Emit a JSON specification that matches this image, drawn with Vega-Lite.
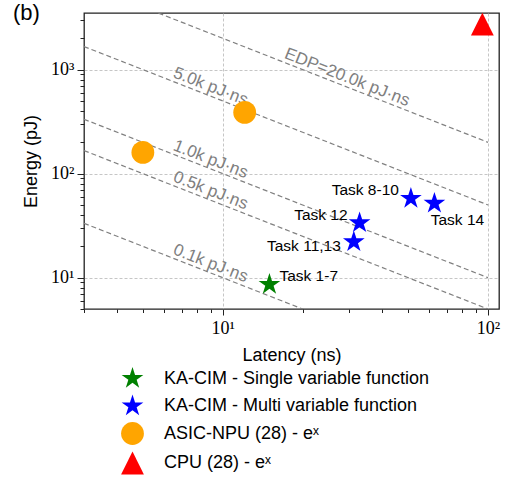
{
  "$schema": "https://vega.github.io/schema/vega-lite/v6.json",
  "width": 415,
  "height": 296,
  "autosize": "none",
  "padding": {"left": 84, "top": 13, "right": 7, "bottom": 168},
  "background": "white",
  "config": {
    "font": "Liberation Sans",
    "view": {"stroke": "#222222", "strokeWidth": 1.3},
    "axis": {
      "tickColor": "#222222",
      "tickWidth": 1,
      "gridColor": "#b8b8b8",
      "gridDash": [3, 2],
      "gridWidth": 0.8,
      "titleFontSize": 18,
      "titleFontWeight": "normal",
      "titleColor": "black",
      "labelColor": "black",
      "titleFont": "Liberation Sans"
    }
  },
  "title": {
    "text": "(b)",
    "anchor": "start",
    "frame": "group",
    "orient": "top",
    "offset": 0,
    "dx": -71,
    "dy": 31,
    "baseline": "alphabetic",
    "fontSize": 22,
    "fontWeight": "normal",
    "font": "Liberation Sans",
    "color": "black"
  },
  "datasets": {
    "points": [
      {"series": "KA-CIM - Single variable function", "latency": 15.0, "energy": 8.6, "task": "Task 1-7"},
      {"series": "KA-CIM - Multi variable function", "latency": 31.2, "energy": 22.1, "task": "Task 11,13"},
      {"series": "KA-CIM - Multi variable function", "latency": 32.8, "energy": 33.7, "task": "Task 12"},
      {"series": "KA-CIM - Multi variable function", "latency": 51.2, "energy": 57.8, "task": "Task 8-10"},
      {"series": "KA-CIM - Multi variable function", "latency": 62.8, "energy": 51.8, "task": "Task 14"},
      {"series": "ASIC-NPU (28) - eˣ", "latency": 5.0, "energy": 160, "task": ""},
      {"series": "ASIC-NPU (28) - eˣ", "latency": 12.1, "energy": 388, "task": ""},
      {"series": "CPU (28) - eˣ", "latency": 95.2, "energy": 2740, "task": ""}
    ],
    "edp_lines": [
      {"edp": "0.1k", "latency": 3, "energy": 33.333},
      {"edp": "0.1k", "latency": 100, "energy": 1},
      {"edp": "0.5k", "latency": 3, "energy": 166.667},
      {"edp": "0.5k", "latency": 100, "energy": 5},
      {"edp": "1.0k", "latency": 3, "energy": 333.333},
      {"edp": "1.0k", "latency": 100, "energy": 10},
      {"edp": "5.0k", "latency": 3, "energy": 1666.667},
      {"edp": "5.0k", "latency": 100, "energy": 50},
      {"edp": "20.0k", "latency": 3, "energy": 6666.667},
      {"edp": "20.0k", "latency": 100, "energy": 200}
    ],
    "edp_labels": [
      {"label": "EDP=20.0k pJ·ns", "latency": 28.6, "energy": 699},
      {"label": "5.0k pJ·ns", "latency": 8.75, "energy": 571},
      {"label": "1.0k pJ·ns", "latency": 8.75, "energy": 114},
      {"label": "0.5k pJ·ns", "latency": 8.75, "energy": 57.1},
      {"label": "0.1k pJ·ns", "latency": 8.75, "energy": 11.4}
    ]
  },
  "layer": [
    {
      "data": {"name": "edp_lines"},
      "mark": {"type": "line", "clip": true, "color": "#808080", "strokeWidth": 1.2, "strokeDash": [5, 3]},
      "encoding": {
        "x": {
          "field": "latency",
          "type": "quantitative",
          "scale": {"type": "log", "domain": [3, 110], "nice": false},
          "axis": {
            "title": "Latency (ns)",
            "values": [3, 4, 5, 6, 7, 8, 9, 10, 20, 30, 40, 50, 60, 70, 80, 90, 100],
            "labelExpr": "datum.value === 10 ? '10¹' : datum.value === 100 ? '10²' : ''",
            "tickSize": {"condition": {"test": "datum.value === 10 || datum.value === 100", "value": 6}, "value": 3.5},
            "gridOpacity": {"condition": {"test": "datum.value === 10 || datum.value === 100", "value": 1}, "value": 0},
            "grid": true,
            "domain": false,
            "labelFont": "Liberation Serif",
            "labelFontSize": 18,
            "labelPadding": 4,
            "labelFlush": false,
            "labelOverlap": false,
            "titlePadding": 9
          }
        },
        "y": {
          "field": "energy",
          "type": "quantitative",
          "scale": {"type": "log", "domain": [5, 3500], "nice": false},
          "axis": {
            "title": "Energy (pJ)",
            "values": [5, 6, 7, 8, 9, 10, 20, 30, 40, 50, 60, 70, 80, 90, 100, 200, 300, 400, 500, 600, 700, 800, 900, 1000, 2000, 3000],
            "labelExpr": "datum.value === 10 ? '10¹' : datum.value === 100 ? '10²' : datum.value === 1000 ? '10³' : ''",
            "tickSize": {"condition": {"test": "datum.value === 10 || datum.value === 100 || datum.value === 1000", "value": 7}, "value": 4},
            "gridOpacity": {"condition": {"test": "datum.value === 10 || datum.value === 100 || datum.value === 1000", "value": 1}, "value": 0},
            "grid": true,
            "domain": false,
            "labelFont": "Liberation Serif",
            "labelFontSize": 18,
            "labelPadding": 3,
            "labelFlush": false,
            "labelOverlap": false,
            "titlePadding": 10
          }
        },
        "detail": {"field": "edp", "type": "nominal"}
      }
    },
    {
      "data": {"name": "edp_labels"},
      "mark": {"type": "text", "angle": 21.4, "align": "center", "baseline": "middle", "dy": -9, "color": "#808080", "fontSize": 17},
      "encoding": {
        "x": {"field": "latency", "type": "quantitative"},
        "y": {"field": "energy", "type": "quantitative"},
        "text": {"field": "label"}
      }
    },
    {
      "data": {"name": "points"},
      "mark": {"type": "point", "filled": true, "opacity": 1, "strokeWidth": 0},
      "encoding": {
        "x": {"field": "latency", "type": "quantitative"},
        "y": {"field": "energy", "type": "quantitative"},
        "color": {
          "field": "series",
          "type": "nominal",
          "scale": {
            "domain": ["KA-CIM - Single variable function", "KA-CIM - Multi variable function", "ASIC-NPU (28) - eˣ", "CPU (28) - eˣ"],
            "range": ["#008000", "#0000ff", "#ffa500", "#ff0000"]
          },
          "legend": {
            "orient": "none",
            "legendX": 37,
            "legendY": 354,
            "title": null,
            "labelFontSize": 18,
            "labelFont": "Liberation Sans",
            "labelColor": "black",
            "symbolSize": 324,
            "labelOffset": 20,
            "rowPadding": 6.5,
            "padding": 0,
            "labelLimit": 400,
            "symbolStrokeWidth": 0,
            "encode": {
              "symbols": {
                "update": {
                  "size": {"signal": "datum.index === 2 ? 256 : datum.index === 3 ? 200 : 400"}
                }
              }
            }
          }
        },
        "shape": {
          "field": "series",
          "type": "nominal",
          "scale": {
            "domain": ["KA-CIM - Single variable function", "KA-CIM - Multi variable function", "ASIC-NPU (28) - eˣ", "CPU (28) - eˣ"],
            "range": [
              "M0,-1L0.2245,-0.309L0.9511,-0.309L0.3633,0.118L0.5878,0.809L0,0.382L-0.5878,0.809L-0.3633,0.118L-0.9511,-0.309L-0.2245,-0.309Z",
              "M0,-1L0.2245,-0.309L0.9511,-0.309L0.3633,0.118L0.5878,0.809L0,0.382L-0.5878,0.809L-0.3633,0.118L-0.9511,-0.309L-0.2245,-0.309Z",
              "circle",
              "M0,-1L1,1L-1,1Z"
            ]
          }
        },
        "size": {
          "field": "series",
          "type": "nominal",
          "scale": {
            "domain": ["KA-CIM - Single variable function", "KA-CIM - Multi variable function", "ASIC-NPU (28) - eˣ", "CPU (28) - eˣ"],
            "range": [520, 520, 335, 400]
          },
          "legend": null
        }
      }
    },
    {
      "data": {"name": "points"},
      "transform": [{"filter": "datum.task === 'Task 1-7'"}],
      "mark": {"type": "text", "align": "left", "baseline": "middle", "dx": 10, "dy": -8, "fontSize": 15.5, "color": "black"},
      "encoding": {
        "x": {"field": "latency", "type": "quantitative"},
        "y": {"field": "energy", "type": "quantitative"},
        "text": {"field": "task"}
      }
    },
    {
      "data": {"name": "points"},
      "transform": [{"filter": "datum.task === 'Task 12' || datum.task === 'Task 8-10'"}],
      "mark": {"type": "text", "align": "right", "baseline": "middle", "dx": -12, "dy": -8, "fontSize": 15.5, "color": "black"},
      "encoding": {
        "x": {"field": "latency", "type": "quantitative"},
        "y": {"field": "energy", "type": "quantitative"},
        "text": {"field": "task"}
      }
    },
    {
      "data": {"name": "points"},
      "transform": [{"filter": "datum.task === 'Task 11,13'"}],
      "mark": {"type": "text", "align": "right", "baseline": "middle", "dx": -13, "dy": 4, "fontSize": 15.5, "color": "black"},
      "encoding": {
        "x": {"field": "latency", "type": "quantitative"},
        "y": {"field": "energy", "type": "quantitative"},
        "text": {"field": "task"}
      }
    },
    {
      "data": {"name": "points"},
      "transform": [{"filter": "datum.task === 'Task 14'"}],
      "mark": {"type": "text", "align": "center", "baseline": "middle", "dx": 23, "dy": 17, "fontSize": 15.5, "color": "black"},
      "encoding": {
        "x": {"field": "latency", "type": "quantitative"},
        "y": {"field": "energy", "type": "quantitative"},
        "text": {"field": "task"}
      }
    }
  ]
}
